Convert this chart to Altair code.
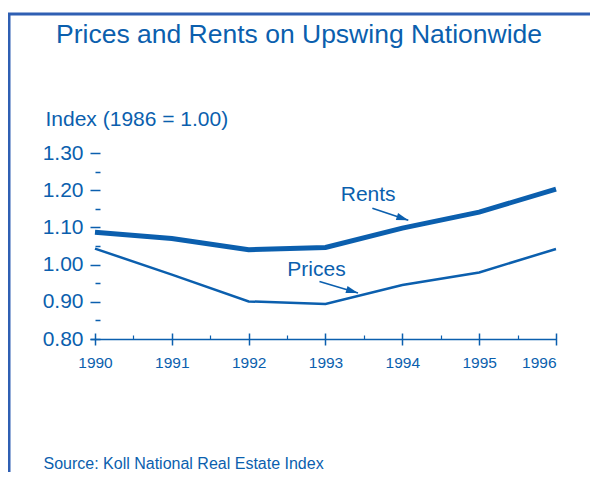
import altair as alt
import pandas as pd
import numpy as np

years = [1990, 1991, 1992, 1993, 1994, 1995, 1996]
rents = [1.087, 1.070, 1.040, 1.046, 1.098, 1.141, 1.203]
prices = [1.043, 0.973, 0.901, 0.894, 0.945, 0.979, 1.042]

y_major = [0.80, 0.90, 1.00, 1.10, 1.20, 1.30]
y_minor = [0.85, 0.95, 1.05, 1.15, 1.25]
x_minor = [1990.5, 1991.5, 1992.5, 1993.5, 1994.5, 1995.5]

label_text = ["Rents", "Prices"]
label_x = [1993.198, 1992.503]
label_y = [1.1718, 0.9694]

arrow_tail_x = [1993.610, 1992.922]
arrow_tail_y = [1.1513, 0.9546]
arrow_tip_x = [1994.078, 1993.423]
arrow_tip_y = [1.1190, 0.9237]

BLUE = "#0b5fae"
FRAME = "#2f5fb3"
FONT = "Liberation Sans"

W, H = 466, 186
XDOM = [1989.935, 1996]
YDOM = [0.8, 1.3]
px_per_x = W / (XDOM[1] - XDOM[0])
px_per_y = H / (YDOM[1] - YDOM[0])

df = pd.DataFrame({"year": years, "Rents": rents, "Prices": prices})
lab = pd.DataFrame({"t": label_text, "x": label_x, "y": label_y})
arr_rows = []
for i in range(len(arrow_tail_x)):
    arr_rows.append({"id": i, "x": arrow_tail_x[i], "y": arrow_tail_y[i], "o": 0})
    arr_rows.append({"id": i, "x": arrow_tip_x[i], "y": arrow_tip_y[i], "o": 1})
arr = pd.DataFrame(arr_rows)
heads = pd.DataFrame({
    "x": arrow_tip_x, "y": arrow_tip_y,
    "ang": [float(np.degrees(np.arctan2(-(ty - sy) * px_per_y, (tx - sx) * px_per_x)))
            for sx, sy, tx, ty in zip(arrow_tail_x, arrow_tail_y, arrow_tip_x, arrow_tip_y)],
})
one = pd.DataFrame({"k": [0]})

xs = alt.Scale(domain=XDOM, nice=False, zero=False)
ys = alt.Scale(domain=YDOM, nice=False, zero=False)

main_x = alt.Axis(values=years, format="d", ticks=False, tickSize=0, labelPadding=16,
                  labelFontSize=15.5, labelColor=BLUE, labelFont=FONT, domainColor=BLUE,
                  domainWidth=1.5, grid=False, orient="bottom",
                  title="Source: Koll National Real Estate Index", titleFont=FONT,
                  titleFontSize=16, titleFontWeight="normal", titleColor=BLUE,
                  titleAnchor="start", titleAlign="left", titleBaseline="alphabetic",
                  titleX=-47, titleY=129)
main_y = alt.Axis(values=y_major, format=".2f", offset=-10, tickSize=10, tickWidth=1.5,
                  tickColor=BLUE, labelPadding=7, labelFontSize=21, labelColor=BLUE,
                  labelFont=FONT, domain=False, grid=False, orient="left",
                  title="Index (1986 = 1.00)", titleFont=FONT, titleFontSize=21,
                  titleFontWeight="normal", titleColor=BLUE, titleAngle=0,
                  titleAlign="left", titleBaseline="alphabetic", titleX=-55, titleY=-28)

rent_line = alt.Chart(df).mark_line(color=BLUE, strokeWidth=5, strokeCap="butt").encode(
    x=alt.X("year:Q", scale=xs, axis=main_x),
    y=alt.Y("Rents:Q", scale=ys, axis=main_y),
)
price_line = alt.Chart(df).mark_line(color=BLUE, strokeWidth=2.5).encode(
    x=alt.X("year:Q", scale=xs, axis=None),
    y=alt.Y("Prices:Q", scale=ys, axis=None),
)

ticks_a = alt.Chart(df).mark_point(opacity=0).encode(
    x=alt.X("year:Q", scale=xs, axis=alt.Axis(values=years, offset=-6, tickSize=12,
            tickWidth=1.5, tickColor=BLUE, labels=False, domain=False, grid=False,
            title=None, orient="bottom")),
    y=alt.Y("Rents:Q", scale=ys, axis=alt.Axis(values=y_minor, offset=-10, tickSize=5,
            tickWidth=1.5, tickColor=BLUE, labels=False, domain=False, grid=False,
            title=None, orient="left")),
)
ticks_b = alt.Chart(df).mark_point(opacity=0).encode(
    x=alt.X("year:Q", scale=xs, axis=alt.Axis(values=x_minor, offset=-4, tickSize=4,
            tickWidth=1.2, tickColor=BLUE, labels=False, domain=False, grid=False,
            title=None, orient="bottom")),
    y=alt.Y("Rents:Q", scale=ys, axis=None),
)

labels = alt.Chart(lab).mark_text(align="left", baseline="alphabetic", font=FONT,
                                  fontSize=21, color=BLUE).encode(
    x=alt.X("x:Q", scale=xs, axis=None),
    y=alt.Y("y:Q", scale=ys, axis=None),
    text="t:N",
)
arrows = alt.Chart(arr).mark_line(color=BLUE, strokeWidth=1.6).encode(
    x=alt.X("x:Q", scale=xs, axis=None),
    y=alt.Y("y:Q", scale=ys, axis=None),
    detail="id:N",
    order="o:Q",
)
arrowheads = alt.Chart(heads).mark_point(
    shape="M0,0L-2,-0.6L-2,0.6Z", filled=True, color=BLUE, opacity=1, size=144
).encode(
    x=alt.X("x:Q", scale=xs, axis=None),
    y=alt.Y("y:Q", scale=ys, axis=None),
    angle=alt.Angle("ang:Q", scale=None),
)

frame_left = alt.Chart(one).mark_rule(color=FRAME, strokeWidth=3).encode(
    x=alt.value(-81), x2=alt.value(-81), y=alt.value(-139), y2=alt.value(420))
frame_top = alt.Chart(one).mark_rule(color=FRAME, strokeWidth=3).encode(
    x=alt.value(-82.5), x2=alt.value(600), y=alt.value(-139), y2=alt.value(-139))

chart = alt.layer(
    frame_left, frame_top, rent_line, price_line, ticks_a, ticks_b, labels, arrows, arrowheads
).resolve_axis(x="independent", y="independent").properties(
    width=W, height=H,
    title=alt.TitleParams("Prices and Rents on Upswing Nationwide", anchor="start",
                          font=FONT, fontSize=26.5, fontWeight="normal", color=BLUE,
                          baseline="alphabetic", dx=50, offset=-57),
    autosize=alt.AutoSizeParams(type="none"),
    padding={"left": 82, "top": 145, "right": 34, "bottom": 133},
    background="white",
).configure_view(strokeWidth=0, stroke=None)

chart.save("out.html", embed_options={"renderer": "svg", "actions": False})
